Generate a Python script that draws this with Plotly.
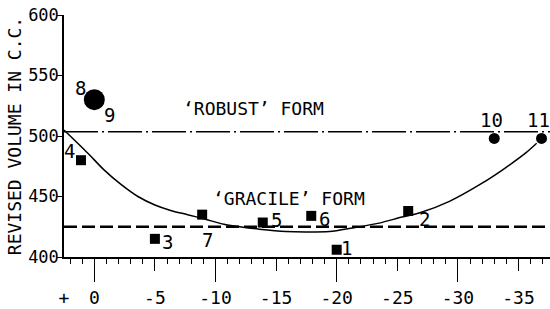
import plotly.graph_objects as go

# ---- data ----
sq_ids = ["1", "2", "3", "4", "5", "6", "7"]
sq_x = [-20.0, -25.9, -5.0, 1.1, -13.9, -17.9, -8.9]
sq_y = [406, 438, 415, 480, 428.5, 434, 435]

dot_ids = ["10", "11"]
dot_x = [-33.0, -36.9]
dot_y = [498, 498]

big_ids = ["8", "9"]
big_x = [0.0]
big_y = [530]

curve_x = [2.5, 0.55, -0.8, -2.2, -3.6, -5.0, -6.3, -7.7, -9.1, -10.7, -12.0, -13.6,
           -15.8, -17.4, -19.4, -21.3, -23.5, -25.4, -26.8, -29.3, -32.0, -33.9, -35.6, -36.5]
curve_y = [505, 486, 472, 460, 450, 443, 438.5, 435, 431.4, 427, 425, 423,
           421, 420.6, 421, 424, 428, 433, 436.3, 446, 461, 473.5, 486, 494]

robust_level = 503.5
gracile_level = 425
x_span = [2.5, -37.6]

x_tickvals = [2.5, 0, -5, -10, -15, -20, -25, -30, -35]
x_ticktext = ["+", "0", "-5", "-10", "-15", "-20", "-25", "-30", "-35"]
y_tickvals = [400, 450, 500, 550, 600]

FONT = "DejaVu Sans Mono"

fig = go.Figure()

fig.add_trace(go.Scatter(x=x_span, y=[robust_level] * 2, mode="lines", xaxis="x3",
                         line=dict(color="black", width=1.6, dash="34px,4px,2px,4px"),
                         hoverinfo="skip"))
fig.add_trace(go.Scatter(x=x_span, y=[gracile_level] * 2, mode="lines", xaxis="x2",
                         line=dict(color="black", width=2.4, dash="13px,5px"),
                         hoverinfo="skip"))
fig.add_trace(go.Scatter(x=curve_x, y=curve_y, mode="lines",
                         line=dict(color="black", width=1.5, shape="spline", smoothing=0.8),
                         hoverinfo="skip"))
fig.add_trace(go.Scatter(x=sq_x, y=sq_y, mode="markers",
                         marker=dict(symbol="square", size=10, color="black")))
fig.add_trace(go.Scatter(x=dot_x, y=dot_y, mode="markers",
                         marker=dict(symbol="circle", size=11, color="black")))
fig.add_trace(go.Scatter(x=big_x, y=big_y, mode="markers",
                         marker=dict(symbol="circle", size=21, color="black")))

# point-number label offsets (px)
sq_off = {"1": (10, 2), "2": (16, -8), "3": (13, -3), "4": (-11, 9),
          "5": (14, 3), "6": (13, -3), "7": (5, -25)}
for i, xv, yv in zip(sq_ids, sq_x, sq_y):
    dx, dy = sq_off[i]
    fig.add_annotation(x=xv, y=yv, text=i, showarrow=False, xshift=dx, yshift=dy,
                       font=dict(family=FONT, size=19, color="black"))
for i, xv, yv in zip(dot_ids, dot_x, dot_y):
    fig.add_annotation(x=xv, y=yv, text=i, showarrow=False, xshift=-3, yshift=18,
                       font=dict(family=FONT, size=19, color="black"))
for i, (dx, dy) in zip(big_ids, [(-14, 12), (15, -15)]):
    fig.add_annotation(x=big_x[0], y=big_y[0], text=i, showarrow=False, xshift=dx, yshift=dy,
                       font=dict(family=FONT, size=19, color="black"))

fig.add_annotation(x=-13.1, y=522.5, text="\u2018ROBUST\u2019 FORM", showarrow=False,
                   font=dict(family=FONT, size=18, color="black"))
fig.add_annotation(x=-16.1, y=448, text="\u2018GRACILE\u2019 FORM", showarrow=False,
                   font=dict(family=FONT, size=18, color="black"))

fig.update_layout(
    width=550, height=309,
    margin=dict(l=64, r=0, t=15, b=52, autoexpand=False),
    paper_bgcolor="white", plot_bgcolor="white",
    showlegend=False,
    font=dict(family=FONT, color="black"),
    xaxis=dict(range=x_span, tickmode="array", tickvals=x_tickvals, ticktext=x_ticktext,
               ticks="", showgrid=False, zeroline=False, showline=True,
               linecolor="black", linewidth=1.5, ticklabelstandoff=24,
               tickfont=dict(family=FONT, size=18, color="black")),
    xaxis2=dict(range=x_span, overlaying="x", anchor="y", side="bottom",
                tickmode="linear", tick0=0, dtick=5, ticks="outside", ticklen=13,
                tickcolor="black", showticklabels=False, showgrid=False, zeroline=False,
                minor=dict(ticks="outside", dtick=1, tick0=0, ticklen=6,
                           tickcolor="black", showgrid=False)),
    xaxis3=dict(range=x_span, overlaying="x", anchor="y", side="bottom",
                tickmode="linear", tick0=0, dtick=10, ticks="outside", ticklen=24,
                tickcolor="black", showticklabels=False, showgrid=False, zeroline=False),
    yaxis=dict(range=[400, 600], tickmode="array", tickvals=y_tickvals,
               ticks="outside", ticklen=5, tickcolor="black", ticklabelstandoff=-5,
               showgrid=False, zeroline=False, showline=True,
               linecolor="black", linewidth=1.5,
               tickfont=dict(family=FONT, size=17, color="black"),
               title=dict(text="REVISED VOLUME IN C.C.", standoff=2,
                          font=dict(family=FONT, size=18, color="black"))),
)

fig.write_html("out.html", config={"displayModeBar": False},
               post_script="document.body.style.margin='0px';")
